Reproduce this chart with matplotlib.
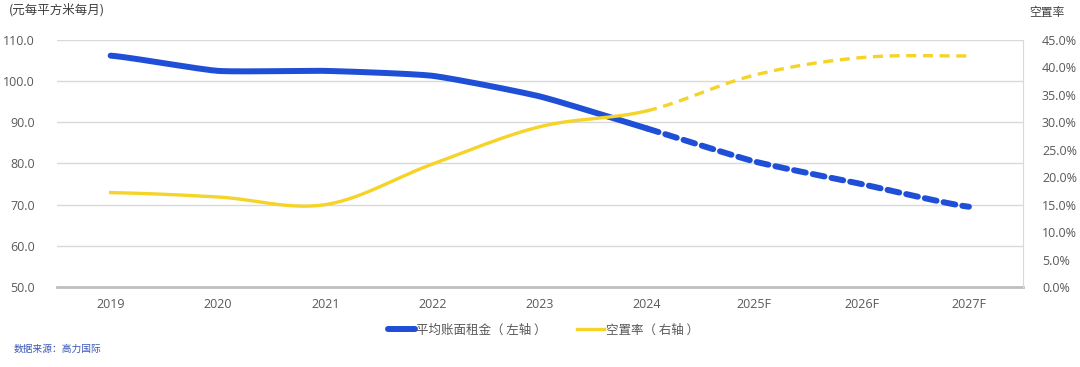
import numpy as np
import matplotlib
matplotlib.use("Agg")
import matplotlib.pyplot as plt
from matplotlib.lines import Line2D

plt.rcParams['font.family'] = ['Open Sans', 'Noto Sans CJK SC', 'DejaVu Sans']

# data
years = ['2019', '2020', '2021', '2022', '2023', '2024', '2025F', '2026F', '2027F']
rent = [106.2, 102.5, 102.5, 101.3, 96.3, 88.5, 80.5, 75.0, 69.5]
vacancy = [17.2, 16.4, 15.0, 22.4, 29.2, 32.1, 38.6, 41.8, 42.1]
split = 5  # index of 2024: actual -> forecast

BLUE = '#1F4FD6'
YELLOW = '#F5D327'
GRID = '#D9D9D9'
TXT = '#595959'


def smooth(x, y, k=0.6, n=30):
    # catmull-rom style smoothing, like a "smoothed line" in office charts
    x = np.asarray(x, float)
    y = np.asarray(y, float)
    px = np.concatenate([[2 * x[0] - x[1]], x, [2 * x[-1] - x[-2]]])
    py = np.concatenate([[y[0]], y, [y[-1]]])
    xs, ys = [], []
    t = np.linspace(0, 1, n)
    h00 = 2 * t**3 - 3 * t**2 + 1
    h10 = t**3 - 2 * t**2 + t
    h01 = -2 * t**3 + 3 * t**2
    h11 = t**3 - t**2
    for i in range(1, len(px) - 2):
        for arr, out in ((px, xs), (py, ys)):
            p0, p1, p2, p3 = arr[i - 1], arr[i], arr[i + 1], arr[i + 2]
            m1 = (p2 - p0) / 2 * k
            m2 = (p3 - p1) / 2 * k
            out.extend(h00 * p1 + h10 * m1 + h01 * p2 + h11 * m2)
    return np.array(xs), np.array(ys)


x = np.arange(len(years))

fig = plt.figure(figsize=(10.8, 3.67), dpi=100)
ax = fig.add_axes([0.0528, 0.218, 0.894, 0.673])
ax2 = ax.twinx()

# left axis
ax.set_xlim(-0.5, len(years) - 0.5)
ax.set_ylim(50, 110)
ax.set_yticks(np.arange(50, 111, 10))
ax.set_yticklabels([f'{v:.1f}' for v in np.arange(50, 111, 10)])
ax.grid(axis='y', color=GRID, linewidth=1)
ax.set_axisbelow(True)
ax.set_xticks(x)
ax.set_xticklabels(years)
ax.tick_params(length=0, labelsize=9, colors=TXT, pad=8)
ax.tick_params(axis='y', pad=16)

for s in ['top', 'left', 'right']:
    ax.spines[s].set_visible(False)
ax.spines['bottom'].set_color('#BFBFBF')
ax.spines['bottom'].set_linewidth(2)

# right axis
ax2.set_ylim(0, 45)
ax2.set_yticks(np.arange(0, 46, 5))
ax2.set_yticklabels([f'{v:.1f}%' for v in np.arange(0, 46, 5)])
ax2.tick_params(length=0, labelsize=9, colors=TXT, pad=14)
for s in ['top', 'left', 'bottom']:
    ax2.spines[s].set_visible(False)
ax2.spines['right'].set_color(GRID)

# rent line (left axis)
sx, sy = smooth(x, rent, k=0.5)
cut = split * 30
ax.plot(sx[:cut], sy[:cut], color=BLUE, linewidth=4.3, solid_capstyle='round', zorder=4)
ax.plot(sx[cut - 1:], sy[cut - 1:], color=BLUE, linewidth=4.3, linestyle=(0, (2, 1.2)),
        dash_capstyle='round', zorder=4)

# vacancy line (right axis)
vx, vy = smooth(x, vacancy, k=1.0)
ax2.plot(vx[:cut], vy[:cut], color=YELLOW, linewidth=2.4, zorder=3)
ax2.plot(vx[cut - 1:], vy[cut - 1:], color=YELLOW, linewidth=2.4, linestyle=(0, (3, 2)), zorder=3)

# titles
fig.text(0.008, 0.972, '(元每平方米每月)', fontsize=9, color='#404040', va='center',
         family=['Noto Sans CJK SC'])
fig.text(0.953, 0.967, '空置率', fontsize=8.5, color='#404040', va='center',
         family=['Noto Sans CJK SC'])

# legend
handles = [Line2D([], [], color=BLUE, linewidth=4.3, solid_capstyle='round'),
           Line2D([], [], color=YELLOW, linewidth=2.4)]
fig.legend(handles, ['平均账面租金（ 左轴 ）', '空置率（ 右轴 ）'], loc='center',
           bbox_to_anchor=(0.503, 0.10), ncol=2, frameon=False,
           handlelength=2.2, handletextpad=0.1, columnspacing=2.4,
           prop={'family': ['Noto Sans CJK SC'], 'size': 9}, labelcolor=TXT)

# source
fig.text(0.013, 0.048, '数据来源：高力国际', fontsize=7, color='#3A57B5', style='italic',
         va='center', family=['Noto Sans CJK SC'])

fig.savefig('out.png', dpi=100)
